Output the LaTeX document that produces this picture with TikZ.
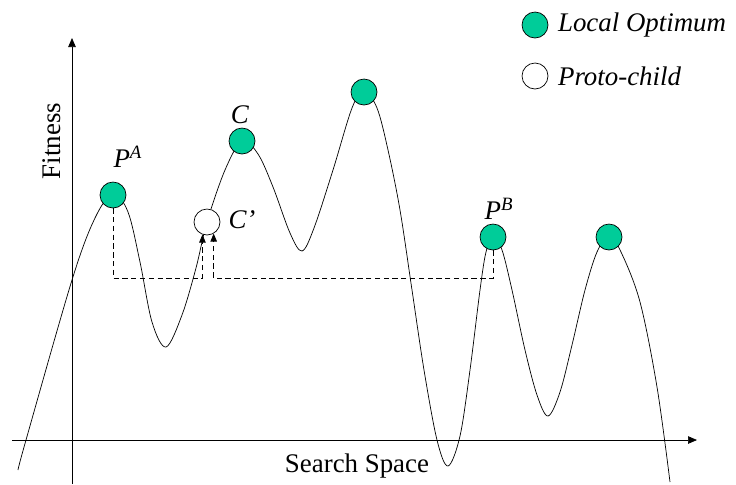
\documentclass[tikz,border=0pt]{standalone}
\usepackage{fontspec}
\setmainfont{Liberation Serif}
\usetikzlibrary{arrows.meta}
\definecolor{optgreen}{HTML}{00CC99}

\begin{document}
\begin{tikzpicture}[x=0.02cm,y=-0.02cm,
  every node/.style={font=\fontsize{15.3}{18}\selectfont},
  optimum/.style={circle,draw,fill=optgreen,inner sep=0pt,minimum size=0.52cm},
  proto/.style={circle,draw,fill=white,inner sep=0pt,minimum size=0.52cm},
  link/.style={dash pattern=on 3pt off 2pt,-{Triangle[length=0.16cm,width=0.13cm]}},
  axis/.style={-{Triangle[length=0.18cm,width=0.15cm]}}]
 \useasboundingbox (0,0) rectangle (736,484);
 % axes
 \coordinate (xs) at (12,440); \coordinate (xe) at (697,440);
 \coordinate (ys) at (72,484); \coordinate (ye) at (72,38);
 \draw[axis] (xs) -- (xe);
 \draw[axis] (ys) -- (ye);
 \node[rotate=90] (fit) at (52,141) {Fitness};
 \node (space) at (357,466) {Search Space};
 % fitness landscape
 \draw plot[smooth,tension=0.55] coordinates {(18,470) (26,440) (72,280) (95,218) (113,194)
  (128,212) (140,262) (152,322) (166,347) (182,315) (196,268) (207,222) (225,170)
  (242,141) (258,154) (273,187) (290,233) (302,251) (314,228) (333,170) (352,108)
  (364,91) (377,108) (388,150) (400,210) (412,290) (424,370) (437,440) (448,466)
  (460,436) (470,370) (480,290) (486,252) (493,236) (502,250) (512,290) (525,350)
  (537,395) (548,416) (560,392) (572,345) (585,290) (597,252) (609,236) (621,252)
  (640,302) (657,387) (670,482)};
 % optima and proto-child
 \node[optimum] (pa) at (113,195) {};
 \node[optimum] (c) at (242,141) {};
 \node[optimum] (top) at (364,92) {};
 \node[optimum] (pb) at (493,237) {};
 \node[optimum] (last) at (609,237) {};
 \node[proto] (cp) at (207,222) {};
 \node (pal) at (128,157) {\textit{P}\textsuperscript{\textit{A}}};
 \node (pbl) at (499,209) {\textit{P}\textsuperscript{\textit{B}}};
 \node (cl) at (240,115) {\textit{C}};
 \node (cpl) at (242,220) {\textit{C'}};
 % crossover
 \draw[link] (pa.south) |- (cp.-110 |- 0,278) -- (cp.-110);
 \draw[link] (pb.south) |- (cp.-60 |- 0,278) -- (cp.-60);
 % legend
 \node[optimum] (lopt) at (535,25) {};
 \node[right=2pt] (loptl) at (lopt.east) {\textit{Local Optimum}};
 \node[proto] (lpro) at (535,76) {};
 \node[right=2pt] (lprol) at (lpro.east) {\textit{Proto-child}};
\end{tikzpicture}
\end{document}
